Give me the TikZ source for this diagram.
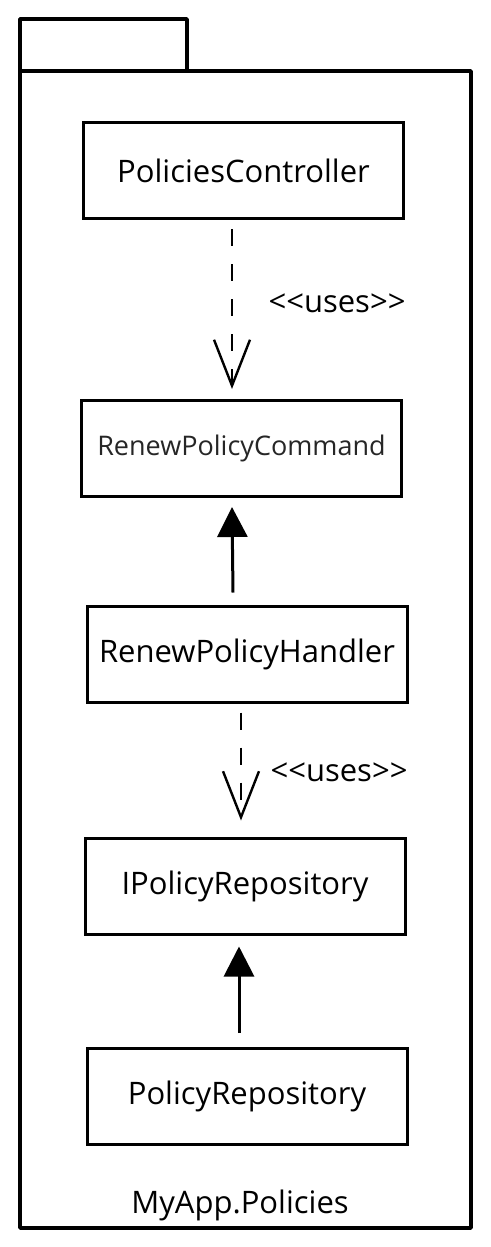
\documentclass[tikz,border=0pt]{standalone}
\usepackage{fontspec}
\setmainfont{Open Sans}
\usetikzlibrary{arrows.meta,calc}
\begin{document}
\begin{tikzpicture}[x=1pt,y=-1pt,
  cls/.style={draw,line width=3pt,minimum width=320pt,minimum height=96pt,inner sep=0pt,font=\fontsize{31}{34}\selectfont},
  usesarrow/.style={line width=2.6pt,dash pattern=on 17pt off 18pt,-{Straight Barb[length=46pt,width=36pt,line width=2.4pt]}},
  realize/.style={line width=3pt,-{Triangle[length=30pt,width=30pt]}},
  lbl/.style={font=\fontsize{31}{33}\selectfont,inner sep=0pt}]
\useasboundingbox (0,0) rectangle (490,1247);
% package
\draw[line width=3.5pt,line join=round] (20,71) rectangle (471,1228);
\draw[line width=3.5pt,line join=round] (20,71) -- (20,19) -- (187,19) -- (187,71);
\node[lbl] (pkg) at (240,1205) {MyApp.Policies};
% classes
\node[cls] (pc) at (243.5,170.5) {PoliciesController};
\node[cls,font=\fontsize{27}{30}\selectfont\color{black!85}] (cmd) at (241.5,448.5) {RenewPolicyCommand};
\node[cls] (hdl) at (247,654) {RenewPolicyHandler};
\node[cls] (ipr) at (245,886) {IPolicyRepository};
\node[cls] (pr) at (247,1096.5) {PolicyRepository};
% connectors
\draw[usesarrow] ($(pc.south)+(-11.5,9)$) -- ($(cmd.north)+(-9.5,-10)$);
\node[lbl] (u1) at (337,303) {{<}{<}uses{>}{>}};
\draw[realize] ($(hdl.north)+(-14,-12)$) -- ($(cmd.south)+(-9.5,9)$);
\draw[usesarrow] ($(hdl.south)+(-6,9)$) -- ($(ipr.north)+(-4,-16)$);
\node[lbl] (u2) at (339,772) {{<}{<}uses{>}{>}};
\draw[realize] ($(pr.north)+(-8,-14)$) -- ($(ipr.south)+(-6,11)$);
\end{tikzpicture}
\end{document}
